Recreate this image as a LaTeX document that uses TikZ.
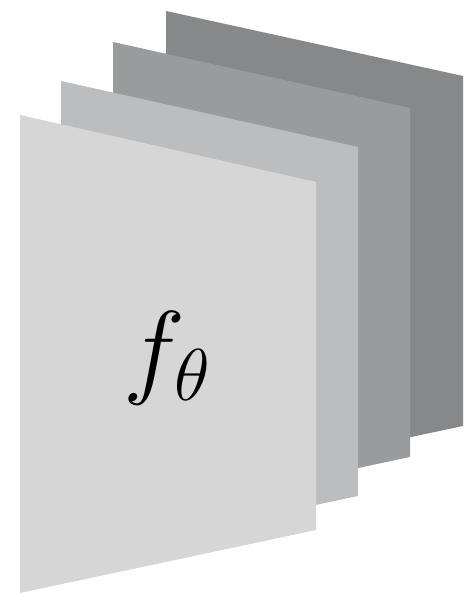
\documentclass[tikz,border=0pt]{standalone}
\usepackage{fix-cm}
\definecolor{cfront}{HTML}{D6D6D6}
\definecolor{ctwo}{HTML}{BCBDBF}
\definecolor{cthree}{HTML}{9A9B9D}
\definecolor{cback}{HTML}{878889}
\begin{document}
\begin{tikzpicture}[x=1pt,y=-1pt]
\useasboundingbox (0,0) rectangle (467,593);
% back
\fill[cback] (166,11) -- (463,76) -- (463,426) -- (166,489) -- cycle;
\fill[cthree] (113,42) -- (410,108) -- (410,457) -- (113,520) -- cycle;
\fill[ctwo] (61,81) -- (358,147) -- (358,496) -- (61,559) -- cycle;
\fill[cfront] (20,115) -- (316,182) -- (316,530) -- (20,593) -- cycle;
\node (lbl) at (167,358) {\fontsize{105}{110}\selectfont $f_\theta$};
\end{tikzpicture}
\end{document}
